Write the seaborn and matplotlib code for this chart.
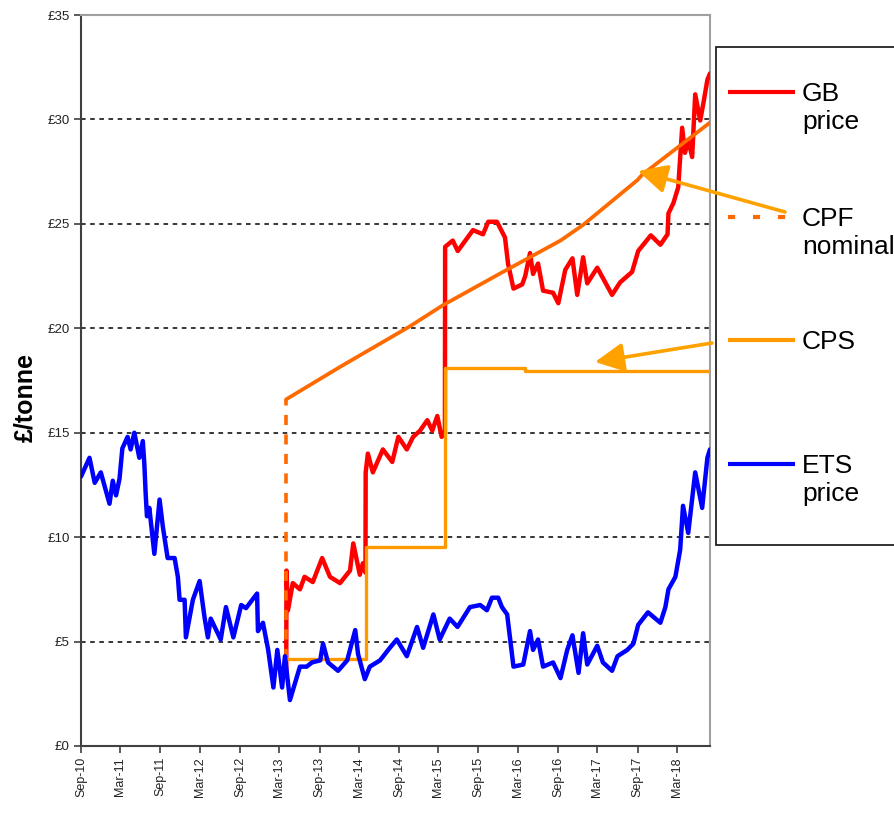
import pandas as pd
import matplotlib.pyplot as plt
from matplotlib.lines import Line2D
from matplotlib.patches import Rectangle, FancyArrowPatch
import seaborn as sns

# EU ETS price (£/tonne)
ets_dates = ['2010-09-01', '2010-10-10', '2010-11-03', '2010-12-01', '2011-01-10', '2011-01-25',
             '2011-02-09', '2011-02-25', '2011-03-10', '2011-04-03', '2011-04-17', '2011-05-04',
             '2011-05-27', '2011-06-12', '2011-06-19', '2011-06-25', '2011-07-01', '2011-07-12',
             '2011-08-04', '2011-08-28', '2011-09-12', '2011-10-04', '2011-11-05', '2011-11-20',
             '2011-11-28', '2011-12-21', '2011-12-27', '2012-01-28', '2012-02-28', '2012-03-21',
             '2012-04-06', '2012-04-19', '2012-06-04', '2012-06-28', '2012-08-01', '2012-09-06',
             '2012-09-28', '2012-11-18', '2012-11-22', '2012-12-15', '2013-01-08', '2013-02-01',
             '2013-02-19', '2013-03-13', '2013-03-26', '2013-04-18', '2013-06-03', '2013-07-04',
             '2013-07-28', '2013-09-04', '2013-09-17', '2013-10-10', '2013-11-25', '2014-01-06',
             '2014-02-12', '2014-02-25', '2014-03-28', '2014-04-20', '2014-06-06', '2014-07-21',
             '2014-08-22', '2014-10-07', '2014-11-23', '2014-12-21', '2015-02-06', '2015-03-07',
             '2015-04-22', '2015-05-28', '2015-07-24', '2015-09-09', '2015-10-10', '2015-11-02',
             '2015-12-01', '2015-12-18', '2016-01-11', '2016-01-25', '2016-02-09', '2016-03-25',
             '2016-04-25', '2016-05-09', '2016-06-01', '2016-06-24', '2016-08-09', '2016-09-12',
             '2016-10-13', '2016-11-06', '2016-12-04', '2016-12-25', '2017-01-13', '2017-02-28',
             '2017-03-26', '2017-05-07', '2017-06-01', '2017-07-16', '2017-08-13', '2017-09-04',
             '2017-10-19', '2017-12-15', '2018-01-07', '2018-01-21', '2018-02-22', '2018-03-16',
             '2018-03-29', '2018-04-22', '2018-05-24', '2018-06-25', '2018-07-19', '2018-07-31']
ets_price = [12.9, 13.8, 12.6, 13.1, 11.6, 12.7,
             12.0, 12.8, 14.25, 14.8, 14.2, 15.0,
             13.8, 14.6, 13.5, 12.1, 11.0, 11.4,
             9.2, 11.8, 10.5, 9.0, 9.0, 8.1,
             7.0, 7.0, 5.2, 7.0, 7.9, 6.2,
             5.2, 6.1, 5.1, 6.65, 5.2, 6.75,
             6.6, 7.3, 5.5, 5.9, 4.6, 2.8,
             4.6, 2.8, 4.3, 2.2, 3.8, 3.8,
             4.0, 4.1, 4.9, 4.0, 3.6, 4.1,
             5.55, 4.4, 3.2, 3.8, 4.1, 4.7,
             5.1, 4.3, 5.7, 4.7, 6.3, 5.1,
             6.1, 5.7, 6.65, 6.75, 6.5, 7.1,
             7.1, 6.65, 6.3, 5.1, 3.8, 3.9,
             5.5, 4.6, 5.1, 3.8, 4.0, 3.25,
             4.6, 5.3, 3.5, 5.4, 3.9, 4.8,
             4.0, 3.6, 4.3, 4.6, 4.9, 5.8,
             6.4, 5.9, 6.65, 7.5, 8.1, 9.4,
             11.5, 10.2, 13.1, 11.4, 13.8, 14.2]

# GB carbon price (ETS + CPS), from April 2013
gb_dates = ['2013-04-01', '2013-04-02', '2013-04-09', '2013-05-01', '2013-06-03', '2013-06-24',
            '2013-08-01', '2013-09-13', '2013-10-19', '2013-12-04', '2014-01-19', '2014-02-03',
            '2014-03-05', '2014-03-19', '2014-03-31', '2014-04-01', '2014-04-11', '2014-05-04',
            '2014-06-19', '2014-08-01', '2014-08-29', '2014-10-07', '2014-11-05', '2014-12-07',
            '2015-01-09', '2015-02-01', '2015-02-24', '2015-03-16', '2015-03-31', '2015-04-01',
            '2015-05-06', '2015-05-29', '2015-07-10', '2015-08-07', '2015-09-22', '2015-10-16',
            '2015-11-25', '2016-01-01', '2016-01-15', '2016-02-09', '2016-03-20', '2016-04-03',
            '2016-04-25', '2016-05-09', '2016-06-01', '2016-06-24', '2016-08-09', '2016-09-02',
            '2016-10-04', '2016-11-06', '2016-11-28', '2016-12-25', '2017-01-13', '2017-02-28',
            '2017-05-07', '2017-06-13', '2017-08-07', '2017-09-04', '2017-11-01', '2017-12-15',
            '2018-01-17', '2018-01-21', '2018-02-13', '2018-03-07', '2018-03-25', '2018-04-07',
            '2018-04-22', '2018-05-10', '2018-05-24', '2018-06-16', '2018-07-01', '2018-07-19',
            '2018-07-31']
gb_price = [3.5, 8.4, 6.5, 7.8, 7.5, 8.1,
            7.85, 9.0, 8.1, 7.8, 8.4, 9.7,
            8.2, 8.75, 8.3, 13.1, 14.0, 13.1,
            14.2, 13.6, 14.8, 14.2, 14.8, 15.1,
            15.6, 15.1, 15.8, 14.8, 15.0, 23.9,
            24.2, 23.7, 24.3, 24.7, 24.5, 25.1,
            25.1, 24.35, 23.1, 21.9, 22.1, 22.5,
            23.6, 22.6, 23.1, 21.8, 21.7, 21.2,
            22.8, 23.35, 21.6, 23.4, 22.15, 22.9,
            21.6, 22.2, 22.7, 23.7, 24.45, 24.0,
            24.5, 25.5, 26.0, 26.75, 29.6, 28.4,
            29.0, 28.2, 31.2, 29.95, 30.8, 31.9,
            32.2]

# Carbon Price Support rate (step)
cps_dates = ['2013-04-01', '2014-04-01', '2015-04-01', '2016-04-01', '2018-07-31']
cps_rate = [4.15, 9.55, 18.08, 17.95, 17.95]

# Carbon Price Floor, nominal trajectory
cpf_dates = ['2013-04-01', '2013-12-04', '2014-10-22', '2015-03-21', '2015-12-23',
             '2016-09-12', '2016-12-25', '2017-09-01', '2017-09-22', '2018-07-31']
cpf_nominal = [16.6, 18.15, 20.1, 21.1, 22.7, 24.2, 24.95, 27.1, 27.35, 29.85]
cpf_jump = [4.15, 16.6]

x_tick_labels = ['Sep-10', 'Mar-11', 'Sep-11', 'Mar-12', 'Sep-12', 'Mar-13', 'Sep-13', 'Mar-14',
                 'Sep-14', 'Mar-15', 'Sep-15', 'Mar-16', 'Sep-16', 'Mar-17', 'Sep-17', 'Mar-18']
y_ticks = [0, 5, 10, 15, 20, 25, 30, 35]

legend_labels = ['GB\nprice', 'CPF\nnominal', 'CPS', 'ETS\nprice']

RED, BLUE, CPF_C, CPS_C, ARROW_C = '#FF0000', '#0000FF', '#FF6A00', '#FF9900', '#FFA200'

sns.set_theme(style='white')
plt.rcParams['font.family'] = ['Liberation Sans', 'DejaVu Sans']

W, H = 894, 814
fig = plt.figure(figsize=(W / 100, H / 100), dpi=100)
ax = fig.add_axes([81 / W, 1 - 746 / H, (710 - 81) / W, (746 - 15) / H])

ets = pd.DataFrame({'date': pd.to_datetime(ets_dates), 'price': ets_price})
gb = pd.DataFrame({'date': pd.to_datetime(gb_dates), 'price': gb_price})
cps = pd.DataFrame({'date': pd.to_datetime(cps_dates), 'price': cps_rate})
cpf = pd.DataFrame({'date': pd.to_datetime(cpf_dates), 'price': cpf_nominal})
jump = pd.DataFrame({'date': pd.to_datetime([cpf_dates[0]] * 2), 'price': cpf_jump})

sns.lineplot(data=gb, x='date', y='price', ax=ax, color=RED, linewidth=3.2,
             estimator=None, sort=False, zorder=3)
sns.lineplot(data=jump, x='date', y='price', ax=ax, color=CPF_C, linewidth=2.6,
             linestyle=(0, (2.8, 2.6)), estimator=None, sort=False, zorder=4)
sns.lineplot(data=cpf, x='date', y='price', ax=ax, color=CPF_C, linewidth=2.7,
             estimator=None, sort=False, zorder=4)
sns.lineplot(data=cps, x='date', y='price', ax=ax, color=CPS_C, linewidth=2.4,
             drawstyle='steps-post', estimator=None, sort=False, zorder=4)
sns.lineplot(data=ets, x='date', y='price', ax=ax, color=BLUE, linewidth=3.2,
             estimator=None, sort=False, zorder=5)

ax.set_xlim(pd.Timestamp('2010-09-01'), pd.Timestamp('2018-07-31'))
ax.set_ylim(0, 35)
ax.set_xticks(pd.to_datetime(x_tick_labels, format='%b-%y'))
ax.set_xticklabels(x_tick_labels, rotation=90, fontsize=9, color='#222222')
ax.set_yticks(y_ticks)
ax.set_yticklabels([f'£{v}' for v in y_ticks], fontsize=9.5, color='#222222')
ax.set_xlabel('')
ax.set_ylabel('')
ax.tick_params(axis='both', which='major', bottom=True, left=True, direction='out',
               length=5, width=1.2, color='#404040', pad=3)
ax.set_axisbelow(True)
ax.grid(axis='y', color='black', linestyle=(0, (3, 3)), linewidth=1.1)
ax.grid(axis='x', visible=False)
for side in ['left', 'bottom']:
    ax.spines[side].set_color('#404040')
    ax.spines[side].set_linewidth(1.5)
for side in ['top', 'right']:
    ax.spines[side].set_color('#A0A0A0')
    ax.spines[side].set_linewidth(1.5)

fig.text(25 / W, 1 - 397 / H, '£/tonne', rotation=90, ha='center', va='center',
         fontsize=18, fontweight='bold', color='black')

# legend box drawn by hand (it runs off the right edge in the original)
fig.add_artist(Rectangle((716 / W, 1 - 545 / H), (905 - 716) / W, (545 - 47) / H,
                         transform=fig.transFigure, facecolor='white', edgecolor='#222222',
                         linewidth=1.3))
handle_y = [92, 217, 340, 464]
handle_c = [RED, CPF_C, CPS_C, BLUE]
handle_ls = ['-', (0, (1.7, 4.3)), '-', '-']
for y, c, ls, lab in zip(handle_y, handle_c, handle_ls, legend_labels):
    fig.add_artist(Line2D([728 / W, 795 / W], [1 - y / H, 1 - y / H], transform=fig.transFigure,
                          color=c, linewidth=3, linestyle=ls, solid_capstyle='butt'))
    fig.text(802 / W, 1 - (y - 10) / H, lab, ha='left', va='top', fontsize=19,
             color='black', linespacing=1.2)

# arrows from the legend to the CPF and CPS lines
arrow_style = '-|>,head_length=0.7,head_width=0.35'
for start, end in [((785, 212), (638, 171)), ((712, 343), (595, 362))]:
    fig.add_artist(FancyArrowPatch((start[0] / W, 1 - start[1] / H), (end[0] / W, 1 - end[1] / H),
                                   transform=fig.transFigure, arrowstyle=arrow_style,
                                   mutation_scale=25, color=ARROW_C, linewidth=2.6,
                                   shrinkA=0, shrinkB=0, zorder=6))

fig.savefig('out.png', dpi=100)
